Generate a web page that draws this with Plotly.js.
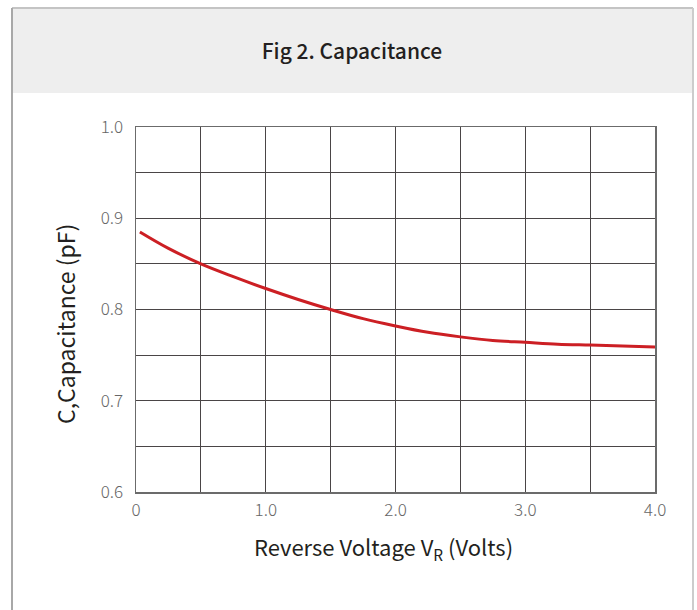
<!DOCTYPE html>
<html>
<head>
<meta charset="utf-8">
<script src="https://cdn.plot.ly/plotly-3.0.1.min.js"></script>
<style>html,body{margin:0;padding:0;background:#fff;}#chart{width:697px;height:610px;}</style>
</head>
<body>
<div id="chart"></div>
<script>
const voltage = [0.03, 0.25, 0.5, 0.75, 1.0, 1.25, 1.5, 1.75, 2.0, 2.25, 2.5, 2.75, 3.0, 3.25, 3.5, 3.75, 4.0];
const capacitance = [0.885, 0.867, 0.850, 0.836, 0.823, 0.811, 0.800, 0.790, 0.782, 0.775, 0.770, 0.766, 0.764, 0.762, 0.761, 0.760, 0.759];
const xTickVals = [0, 1, 2, 3, 4];
const xTickText = ['0', '1.0', '2.0', '3.0', '4.0'];
const yTickVals = [0.6, 0.7, 0.8, 0.9, 1.0];
const yTickText = ['0.6', '0.7', '0.8', '0.9', '1.0'];
const titleText = 'Fig 2. Capacitance';
const xTitleText = 'Reverse Voltage V<sub>R</sub> (Volts)';
const yTitleText = 'C,Capacitance (pF)';

const W = 697, H = 610, L = 136, R = 42, T = 127, B = 118;
const pw = W - L - R, ph = H - T - B;
const px = v => (v - L) / pw;
const py = v => (H - B - v) / ph;

const fontMain = '"Noto Sans CJK SC", "Noto Sans", sans-serif';
const gridColor = '#4a4546';

Plotly.newPlot('chart', [{
  x: voltage, y: capacitance, type: 'scatter', mode: 'lines',
  line: {color: '#cc1f24', width: 3, shape: 'spline'},
  hoverinfo: 'skip'
}], {
  width: W, height: H,
  margin: {l: L, r: R, t: T, b: B},
  paper_bgcolor: '#ffffff', plot_bgcolor: '#ffffff',
  showlegend: false,
  title: {text: titleText, xref: 'container', yref: 'container', x: 0.505, y: 1 - 52 / H, xanchor: 'center', yanchor: 'middle',
    font: {family: fontMain, size: 21, color: '#231f20', weight: 500}},
  xaxis: {
    range: [0, 4], tickvals: xTickVals, ticktext: xTickText,
    showgrid: true, gridcolor: gridColor, gridwidth: 1,
    minor: {dtick: 0.5, showgrid: true, gridcolor: gridColor, gridwidth: 1},
    showline: true, linecolor: '#6b6b6b', linewidth: 1.5, mirror: true,
    ticks: '', zeroline: false, ticklabelstandoff: 2,
    tickfont: {family: fontMain, size: 17, color: '#666666', weight: 300}
  },
  yaxis: {
    range: [0.6, 1.0], tickvals: yTickVals, ticktext: yTickText,
    showgrid: true, gridcolor: gridColor, gridwidth: 1,
    minor: {dtick: 0.05, showgrid: true, gridcolor: gridColor, gridwidth: 1},
    showline: true, linecolor: '#6b6b6b', linewidth: 1.5, mirror: true,
    ticks: '', zeroline: false, ticklabelstandoff: 8,
    tickfont: {family: fontMain, size: 17, color: '#666666', weight: 300}
  },
  annotations: [
    {text: xTitleText, xref: 'paper', yref: 'paper', x: px(383), y: py(547), xanchor: 'center', yanchor: 'middle', showarrow: false,
      font: {family: fontMain, size: 22, color: '#231f20'}},
    {text: yTitleText, xref: 'paper', yref: 'paper', x: px(65), y: py(324), xanchor: 'center', yanchor: 'middle', showarrow: false, textangle: -90,
      font: {family: fontMain, size: 23, color: '#231f20'}}
  ],
  shapes: [
    {type: 'rect', xref: 'paper', yref: 'paper', x0: px(12), x1: px(693), y0: py(93), y1: py(8), fillcolor: '#eeeeee', line: {width: 0}, layer: 'below'},
    {type: 'line', xref: 'paper', yref: 'paper', x0: px(12), x1: px(693), y0: py(8), y1: py(8), line: {color: '#c4c4c4', width: 2}},
    {type: 'line', xref: 'paper', yref: 'paper', x0: px(12), x1: px(12), y0: py(8), y1: py(615), line: {color: '#a8a8a8', width: 2}},
    {type: 'line', xref: 'paper', yref: 'paper', x0: px(693), x1: px(693), y0: py(8), y1: py(615), line: {color: '#cccccc', width: 2}}
  ]
}, {displayModeBar: false, staticPlot: true});
</script>
</body>
</html>
